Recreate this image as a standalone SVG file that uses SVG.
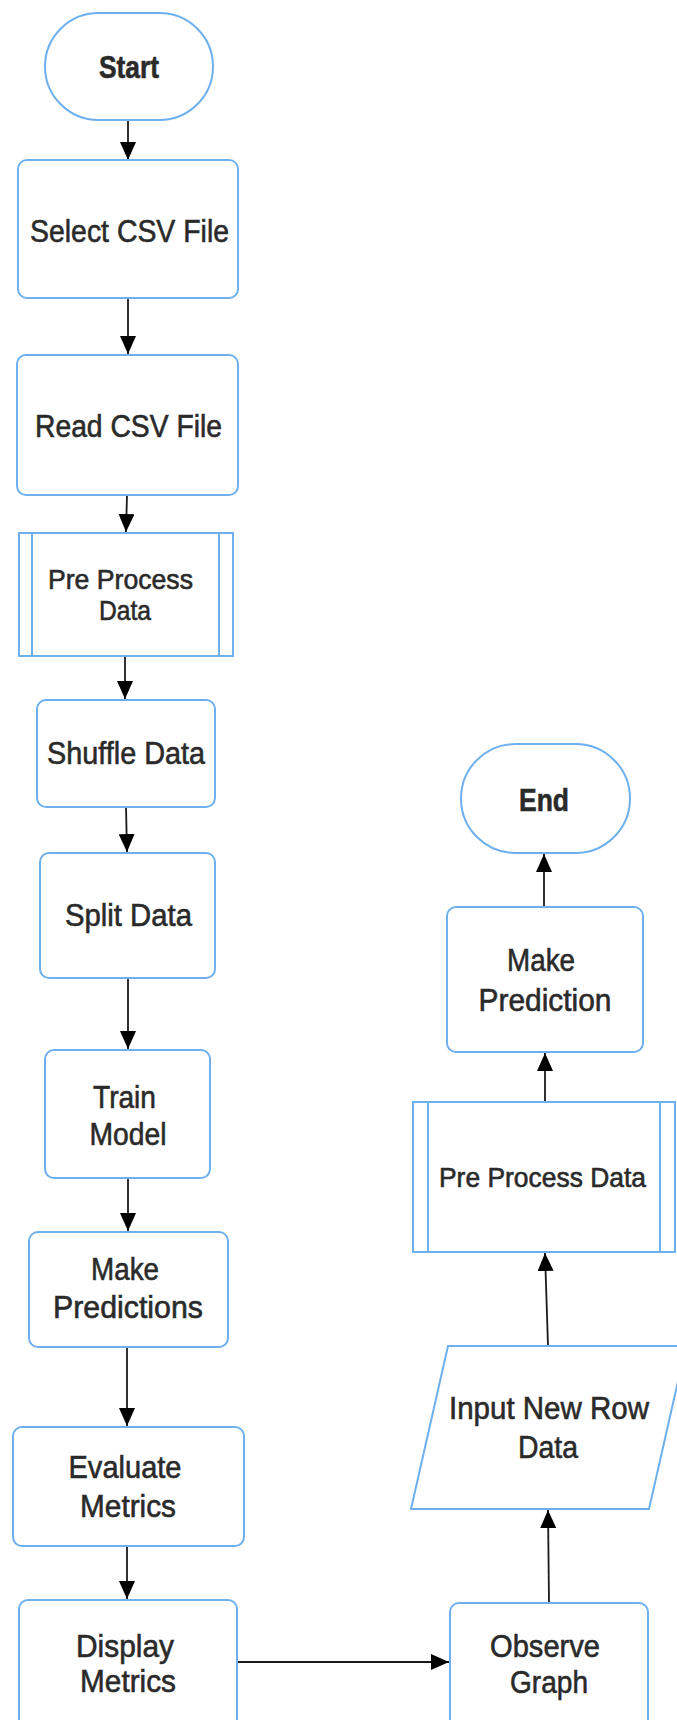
<svg xmlns="http://www.w3.org/2000/svg" width="677" height="1720" viewBox="0 0 677 1720">
<defs>
<style>
.n{fill:#fff;stroke:#6eb0ee;stroke-width:2}
.in{fill:none;stroke:#6eb0ee;stroke-width:2}
.t{font-family:"Liberation Sans",Arial,sans-serif;font-size:32px;fill:#2a2a2a;stroke:#2a2a2a;stroke-width:0.6;text-anchor:middle}
.s{font-size:28px}
.c{fill:none;stroke:#1a1a1a;stroke-width:1.8;marker-end:url(#ah)}
</style>
<marker id="ah" markerUnits="userSpaceOnUse" markerWidth="18" markerHeight="16" refX="18" refY="8" orient="auto" viewBox="0 0 18 16">
<path d="M0,0 L18,8 L0,16 z" fill="#000"/>
</marker>
</defs>
<rect width="677" height="1720" fill="#fff"/>
<g id="connectors">
<line class="c" x1="128" y1="120" x2="128" y2="160"/>
<line class="c" x1="128" y1="298" x2="128" y2="354"/>
<line class="c" x1="127" y1="495" x2="126" y2="532"/>
<line class="c" x1="125" y1="656" x2="125" y2="699"/>
<line class="c" x1="126" y1="807" x2="127" y2="852"/>
<line class="c" x1="128" y1="978" x2="128" y2="1049"/>
<line class="c" x1="128" y1="1178" x2="128" y2="1231"/>
<line class="c" x1="127" y1="1347" x2="127" y2="1426"/>
<line class="c" x1="127" y1="1546" x2="127" y2="1599"/>
<line class="c" x1="237" y1="1662" x2="449" y2="1662"/>
<line class="c" x1="549" y1="1603" x2="548" y2="1510"/>
<line class="c" x1="548" y1="1346" x2="545" y2="1253"/>
<line class="c" x1="545" y1="1102" x2="545" y2="1053"/>
<line class="c" x1="544" y1="907" x2="544" y2="854"/>
</g>
<g id="start">
<rect class="n" x="45" y="13" width="168" height="107" rx="53.5"/>
<text class="t" x="129" y="78" textLength="60" lengthAdjust="spacingAndGlyphs" font-weight="bold">Start</text>
</g>
<g id="select-csv">
<rect class="n" x="18" y="160" width="220" height="138" rx="9"/>
<text class="t" x="129.5" y="242" textLength="199" lengthAdjust="spacingAndGlyphs">Select CSV File</text>
</g>
<g id="read-csv">
<rect class="n" x="17" y="355" width="221" height="140" rx="9"/>
<text class="t" x="128.5" y="437" textLength="187" lengthAdjust="spacingAndGlyphs">Read CSV File</text>
</g>
<g id="preprocess-1">
<rect class="n" x="19" y="533" width="214" height="123"/>
<line class="in" x1="32" y1="533" x2="32" y2="656"/>
<line class="in" x1="219" y1="533" x2="219" y2="656"/>
<text class="t s" x="120.5" y="589" textLength="145" lengthAdjust="spacingAndGlyphs">Pre Process</text>
<text class="t s" x="125" y="620" textLength="52" lengthAdjust="spacingAndGlyphs">Data</text>
</g>
<g id="shuffle">
<rect class="n" x="37" y="700" width="178" height="107" rx="9"/>
<text class="t" x="126" y="764" textLength="158" lengthAdjust="spacingAndGlyphs">Shuffle Data</text>
</g>
<g id="split">
<rect class="n" x="40" y="853" width="175" height="125" rx="9"/>
<text class="t" x="128.5" y="926" textLength="127" lengthAdjust="spacingAndGlyphs">Split Data</text>
</g>
<g id="train">
<rect class="n" x="45" y="1050" width="165" height="128" rx="9"/>
<text class="t" x="124.5" y="1108" textLength="63" lengthAdjust="spacingAndGlyphs">Train</text>
<text class="t" x="128" y="1145" textLength="77" lengthAdjust="spacingAndGlyphs">Model</text>
</g>
<g id="make-predictions">
<rect class="n" x="29" y="1232" width="199" height="115" rx="9"/>
<text class="t" x="125" y="1280" textLength="68" lengthAdjust="spacingAndGlyphs">Make</text>
<text class="t" x="128" y="1318" textLength="150" lengthAdjust="spacingAndGlyphs">Predictions</text>
</g>
<g id="evaluate">
<rect class="n" x="13" y="1427" width="231" height="119" rx="9"/>
<text class="t" x="125" y="1478" textLength="113" lengthAdjust="spacingAndGlyphs">Evaluate</text>
<text class="t" x="128" y="1517" textLength="96" lengthAdjust="spacingAndGlyphs">Metrics</text>
</g>
<g id="display">
<rect class="n" x="19" y="1600" width="218" height="135" rx="9"/>
<text class="t" x="125" y="1657" textLength="98" lengthAdjust="spacingAndGlyphs">Display</text>
<text class="t" x="128" y="1692" textLength="96" lengthAdjust="spacingAndGlyphs">Metrics</text>
</g>
<g id="observe">
<rect class="n" x="450" y="1603" width="198" height="135" rx="9"/>
<text class="t" x="545" y="1657" textLength="110" lengthAdjust="spacingAndGlyphs">Observe</text>
<text class="t" x="549" y="1693" textLength="78" lengthAdjust="spacingAndGlyphs">Graph</text>
</g>
<g id="input-row">
<polygon class="n" points="448,1346 686,1346 649,1509 411,1509"/>
<text class="t" x="549" y="1419" textLength="200" lengthAdjust="spacingAndGlyphs">Input New Row</text>
<text class="t" x="548" y="1458" textLength="60" lengthAdjust="spacingAndGlyphs">Data</text>
</g>
<g id="preprocess-2">
<rect class="n" x="413" y="1102" width="262" height="150"/>
<line class="in" x1="428" y1="1102" x2="428" y2="1252"/>
<line class="in" x1="660" y1="1102" x2="660" y2="1252"/>
<text class="t s" x="542.5" y="1187" textLength="207" lengthAdjust="spacingAndGlyphs">Pre Process Data</text>
</g>
<g id="make-prediction">
<rect class="n" x="447" y="907" width="196" height="145" rx="9"/>
<text class="t" x="541" y="971" textLength="68" lengthAdjust="spacingAndGlyphs">Make</text>
<text class="t" x="545" y="1011" textLength="133" lengthAdjust="spacingAndGlyphs">Prediction</text>
</g>
<g id="end">
<rect class="n" x="461" y="744" width="169" height="109" rx="54.5"/>
<text class="t" x="544" y="811" textLength="50" lengthAdjust="spacingAndGlyphs" font-weight="bold">End</text>
</g>
</svg>
